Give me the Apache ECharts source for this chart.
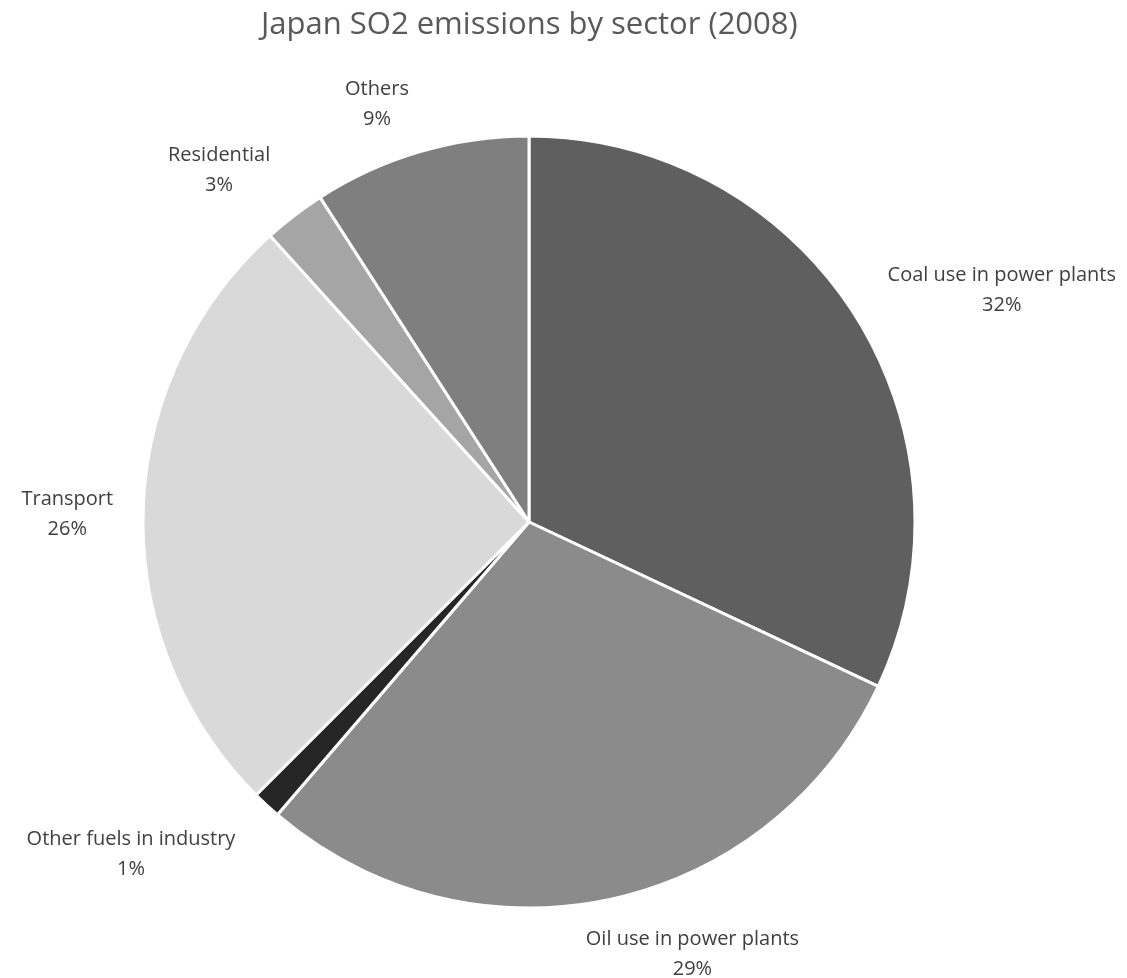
<!DOCTYPE html>
<html>
<head>
<meta charset="utf-8">
<script src="https://cdn.jsdelivr.net/npm/echarts@6/dist/echarts.min.js"></script>
<style>
  html, body { margin: 0; padding: 0; background: #fff; }
  #chart { width: 1127px; height: 978px; }
</style>
</head>
<body>
<div id="chart"></div>
<script>
// 部门名称与占比（%）
var sectors = ['Coal use in power plants', 'Oil use in power plants', 'Other fuels in industry', 'Transport', 'Residential', 'Others'];
var shares = [32.0, 29.3, 1.2, 25.8, 2.6, 9.1];
var sliceColors = ['#5f5f5f', '#8b8b8b', '#262626', '#d9d9d9', '#a5a5a5', '#7f7f7f'];
// 标签微调（像 Excel 的 bestFit）
var labelNudge = [[0, -17], [-47, 40], [-1, 38], [5, 2], [5, -33], [13, -33]];

var pieData = sectors.map(function (name, i) {
  return { name: name, value: shares[i], itemStyle: { color: sliceColors[i] } };
});

var myChart = echarts.init(document.getElementById('chart'));
myChart.setOption({
  animation: false,
  title: {
    text: 'Japan SO2 emissions by sector (2008)',
    left: 256,
    top: 5,
    textStyle: { fontFamily: 'Open Sans', fontSize: 31, fontWeight: 'normal', color: '#595959' }
  },
  series: [{
    type: 'pie',
    center: [529, 522],
    radius: 386,
    startAngle: 90,
    data: pieData,
    itemStyle: { borderColor: '#fff', borderWidth: 3 },
    label: {
      show: true,
      position: 'outside',
      formatter: function (p) { return p.name + '\n' + Math.round(p.value) + '%'; },
      fontFamily: 'Open Sans',
      fontSize: 20,
      lineHeight: 30,
      color: '#404040'
    },
    labelLine: { show: false, length: 15, length2: 15 },
    // 文字居中对齐
    labelLayout: function (params) {
      var r = params.labelRect;
      var n = labelNudge[params.dataIndex];
      return {
        x: r.x + r.width / 2 + n[0],
        y: r.y + r.height / 2 + n[1],
        align: 'center',
        verticalAlign: 'middle'
      };
    }
  }]
});
</script>
</body>
</html>
